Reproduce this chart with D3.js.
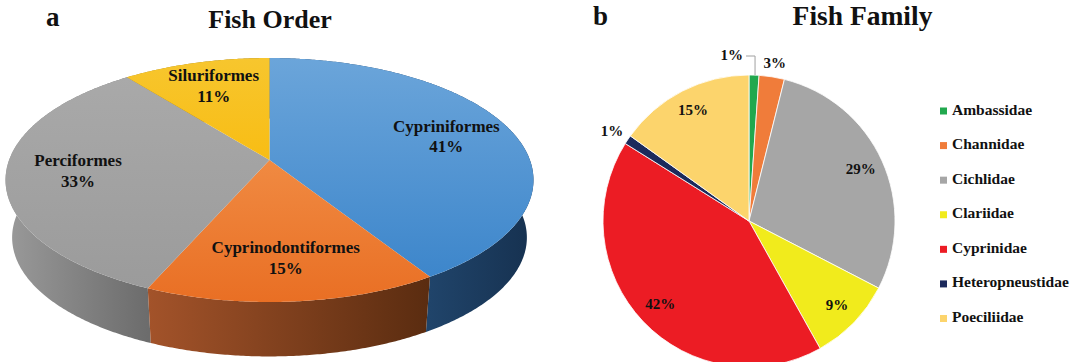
<!DOCTYPE html>
<html>
<head>
<meta charset="utf-8">
<script src="https://cdn.jsdelivr.net/npm/d3@7/dist/d3.min.js"></script>
<style>
  html, body { margin: 0; padding: 0; background: #fff; }
  svg { display: block; }
  text { font-family: "Liberation Serif", "Times New Roman", serif; font-weight: bold; fill: #111; }
</style>
</head>
<body>
<svg id="chart" width="1070" height="362"></svg>
<script>
// ---------------- DATA ----------------
const orderCategories = ["Cypriniformes", "Cyprinodontiformes", "Perciformes", "Siluriformes"];
const orderValues = [41.1, 15.4, 32.9, 10.6];

const familyCategories = ["Ambassidae", "Channidae", "Cichlidae", "Clariidae", "Cyprinidae", "Heteropneustidae", "Poeciliidae"];
const familyValues = [1.1, 2.8, 28.7, 9.3, 42.0, 1.0, 15.1];

const panelLetters = ["a", "b"];
const panelTitles = ["Fish Order", "Fish Family"];

// ---------------- STYLES ----------------
const orderTopColors = [["#6ba5da", "#3d86cb"], ["#f08a42", "#e96f24"], ["#a9a9a9", "#9b9b9b"], ["#f7c62e", "#f8bd14"]];
const orderSideColors = [["#20446a", "#163150"], ["#a3532a", "#5a2c10"], ["#9a9a9a", "#6c6c6c"], ["#b08a10", "#8a6a08"]];
const familyColors = ["#21a84e", "#f07c3a", "#a6a6a6", "#f1eb1c", "#ec1c24", "#1c2a5c", "#fcd46c"];

const svg = d3.select("#chart");
const pct = v => d3.format(".0f")(v) + "%";

// ---------------- TITLES ----------------
svg.append("text").attr("x", 46).attr("y", 26).attr("font-size", 27).text(panelLetters[0]);
svg.append("text").attr("x", 270).attr("y", 27.5).attr("font-size", 26).attr("text-anchor", "middle").text(panelTitles[0]);
svg.append("text").attr("x", 593).attr("y", 25).attr("font-size", 27).text(panelLetters[1]);
svg.append("text").attr("x", 862.5).attr("y", 25).attr("font-size", 27.5).attr("text-anchor", "middle").text(panelTitles[1]);

// ---------------- PANEL A: 3D perspective pie ----------------
(function () {
  const cx = 269.5, cy0 = 160, A = 260.4, B = 118.7, k = 0.164, depth = 58, s = 0.975;
  function P(ang, f, bottom) {
    const u = f * Math.sin(ang), v = f * Math.cos(ang);
    const w = 1 + k * v;
    if (!bottom) return [cx + A * u / w, cy0 - B * v / w];
    return [cx + A * s * u / w, cy0 + depth - B * s * v / w];
  }
  const arcs = d3.pie().sort(null).startAngle(0).endAngle(2 * Math.PI)(orderValues);
  const defs = svg.append("defs");
  const g = svg.append("g");
  const line = d3.line();
  const step = Math.PI / 360;
  function arcPts(a0, a1, bottom) {
    const n = Math.max(2, Math.ceil((a1 - a0) / step));
    return d3.range(n + 1).map(i => P(a0 + (a1 - a0) * i / n, 1, bottom));
  }

  // walls (back to front)
  const order = arcs.map((d, i) => i).sort((i, j) => {
    const mi = (arcs[i].startAngle + arcs[i].endAngle) / 2, mj = (arcs[j].startAngle + arcs[j].endAngle) / 2;
    return Math.cos(mj) - Math.cos(mi);
  });
  order.forEach(i => {
    const d = arcs[i];
    const top = arcPts(d.startAngle, d.endAngle, false);
    const bot = arcPts(d.startAngle, d.endAngle, true).reverse();
    const pts = top.concat(bot);
    // visible x-range for gradient
    const front = top.filter((p, j) => {
      const a = d.startAngle + (d.endAngle - d.startAngle) * j / (top.length - 1);
      return Math.cos(a) < 0.2;
    });
    const xs = (front.length ? front : top).map(p => p[0]);
    const gid = "side" + i;
    const lg = defs.append("linearGradient").attr("id", gid).attr("gradientUnits", "userSpaceOnUse")
      .attr("x1", d3.min(xs)).attr("x2", d3.max(xs)).attr("y1", 0).attr("y2", 0);
    lg.append("stop").attr("offset", 0).attr("stop-color", orderSideColors[i][0]);
    lg.append("stop").attr("offset", 1).attr("stop-color", orderSideColors[i][1]);
    g.append("path").attr("d", line(pts) + "Z").attr("fill", `url(#${gid})`);
  });

  // top faces
  arcs.forEach((d, i) => {
    const pts = [P(0, 0, false)].concat(arcPts(d.startAngle, d.endAngle, false));
    const ys = pts.map(p => p[1]);
    const gid = "top" + i;
    const lg = defs.append("linearGradient").attr("id", gid).attr("gradientUnits", "userSpaceOnUse")
      .attr("x1", 0).attr("x2", 0).attr("y1", d3.min(ys)).attr("y2", d3.max(ys));
    lg.append("stop").attr("offset", 0).attr("stop-color", orderTopColors[i][0]);
    lg.append("stop").attr("offset", 1).attr("stop-color", orderTopColors[i][1]);
    g.append("path").attr("d", line(pts) + "Z").attr("fill", `url(#${gid})`);
  });

  // labels
  arcs.forEach((d, i) => {
    const mid = (d.startAngle + d.endAngle) / 2;
    const [x, y] = P(mid, 0.73, false);
    const t = g.append("text").attr("x", x).attr("y", y - 5).attr("font-size", 17).attr("text-anchor", "middle");
    t.append("tspan").attr("x", x).attr("dy", 0).text(orderCategories[i]);
    t.append("tspan").attr("x", x).attr("dy", 20.5).text(pct(orderValues[i]));
  });
})();

// ---------------- PANEL B: flat pie ----------------
(function () {
  const cx = 749, cy = 221, r = 146;
  const g = svg.append("g").attr("transform", `translate(${cx},${cy})`);
  const arcs = d3.pie().sort(null)(familyValues);
  const arc = d3.arc().innerRadius(0).outerRadius(r);
  g.selectAll("path.slice").data(arcs).join("path").attr("class", "slice")
    .attr("d", arc).attr("fill", (d, i) => familyColors[i])
    .attr("stroke", "#ffffff").attr("stroke-width", 0.8);

  arcs.forEach((d, i) => {
    const mid = (d.startAngle + d.endAngle) / 2;
    const v = familyValues[i];
    const sa = Math.sin(mid), ca = Math.cos(mid);
    if (i === 0) {
      // leader-line label
      const ax = r * Math.sin(mid) + 1, ay = -r;
      const ey = ay - 19, ex = ax - 9;
      g.append("path").attr("d", `M${ax},${ay}V${ey}H${ex}`).attr("fill", "none")
        .attr("stroke", "#a0a0a0").attr("stroke-width", 1);
      g.append("text").attr("x", ex - 3).attr("y", ey + 1).attr("font-size", 15)
        .attr("text-anchor", "end").attr("dominant-baseline", "middle").text(pct(v));
    } else if (v < 5) {
      const rr = r + 6;
      const x = rr * sa + sa * 13, y = -rr * ca - ca * 6;
      g.append("text").attr("x", x).attr("y", y).attr("font-size", 15)
        .attr("text-anchor", "middle").attr("dominant-baseline", "middle").text(pct(v));
    } else {
      const rr = r * 0.84;
      g.append("text").attr("x", rr * sa).attr("y", -rr * ca).attr("font-size", 15)
        .attr("text-anchor", "middle").attr("dominant-baseline", "middle").text(pct(v));
    }
  });

  // legend
  const lg = svg.append("g");
  const rowY = d3.scalePoint().domain(familyCategories).range([111, 318.5]);
  familyCategories.forEach((c, i) => {
    const y = rowY(c);
    lg.append("rect").attr("x", 940).attr("y", y - 3.5).attr("width", 7).attr("height", 7).attr("fill", familyColors[i]);
    lg.append("text").attr("x", 952).attr("y", y).attr("font-size", 15.5)
      .attr("dominant-baseline", "middle").text(c);
  });
})();
</script>
</body>
</html>
